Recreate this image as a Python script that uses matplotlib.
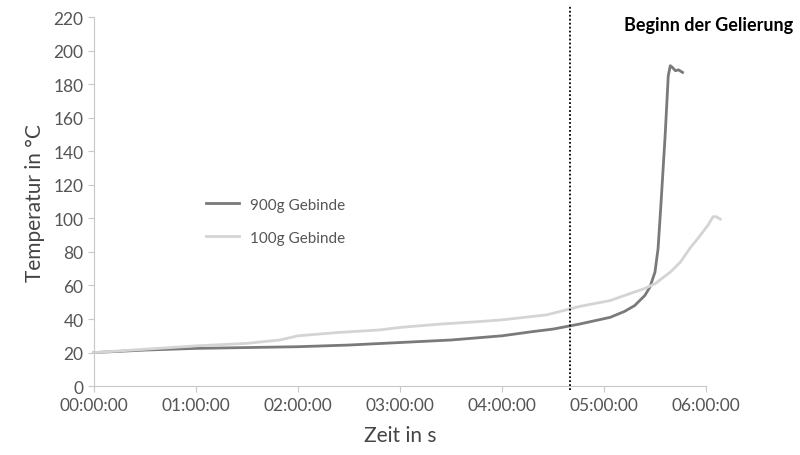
import matplotlib
matplotlib.use("Agg")
import matplotlib.pyplot as plt
from matplotlib.ticker import FuncFormatter, MultipleLocator

plt.rcParams['font.family'] = ['Lato', 'DejaVu Sans']

# Zeit in Stunden, Temperatur in °C
t_900 = [0.0, 0.5, 1.0, 1.5, 2.0, 2.5, 3.0, 3.5, 4.0, 4.3, 4.5, 4.76, 5.06, 5.2, 5.3, 5.4,
         5.45, 5.5, 5.53, 5.56, 5.6, 5.63, 5.65, 5.67, 5.7, 5.73, 5.77]
temp_900 = [20, 21.5, 22.5, 23, 23.5, 24.5, 26, 27.5, 30, 32.5, 34, 37, 41, 44.5, 48, 54,
            59, 68, 82, 110, 150, 185, 191, 190, 188, 188.5, 187]

t_100 = [0.0, 0.5, 1.0, 1.5, 1.82, 2.0, 2.4, 2.8, 3.0, 3.4, 3.78, 4.0, 4.44, 4.76, 5.06,
         5.2, 5.39, 5.5, 5.65, 5.75, 5.84, 5.92, 5.97, 6.02, 6.07, 6.1, 6.14]
temp_100 = [20, 22, 24, 25.5, 27.5, 30, 32, 33.5, 35, 37, 38.5, 39.5, 42.5, 47.5, 51,
            54, 58, 61, 68, 74, 82, 88, 92, 96, 101, 101, 99.5]

gel_start = 4.67  # Beginn der Gelierung (h)

fig = plt.figure(figsize=(8, 4.56), dpi=100)
ax = fig.add_axes([0.1175, 0.151, 0.765, 0.8095])

ax.plot(t_900, temp_900, color="#7a7a7a", lw=2.0, label="900g Gebinde", clip_on=False)
ax.plot(t_100, temp_100, color="#d4d4d4", lw=2.0, label="100g Gebinde", clip_on=False)

ax.axvline(gel_start, ymin=-0.01, ymax=1.03, color="black", ls=(0, (1, 1.2)), lw=1.3,
           clip_on=False)
fig.text(0.992, 0.945, "Beginn der Gelierung", ha="right", va="center",
         fontsize=13, fontweight="bold")

ax.set_xlim(0, 6)
ax.set_ylim(0, 220)
ax.xaxis.set_major_locator(MultipleLocator(1))
ax.yaxis.set_major_locator(MultipleLocator(20))
ax.xaxis.set_major_formatter(FuncFormatter(lambda v, p: "%02d:00:00" % int(round(v))))

for s in ["top", "right"]:
    ax.spines[s].set_visible(False)
for s in ["left", "bottom"]:
    ax.spines[s].set_color("#c8c8c8")
ax.tick_params(colors="#c8c8c8", labelcolor="#555555", labelsize=12.5, length=4)

ax.set_xlabel("Zeit in s", fontsize=15, color="#444444", labelpad=9)
ax.set_ylabel("Temperatur in °C", fontsize=15, color="#444444", labelpad=6)

ax.legend(loc="center left", bbox_to_anchor=(0.17, 0.447), frameon=False, fontsize=11,
          borderpad=0, handlelength=2.2, handletextpad=0.7, labelspacing=1.25,
          labelcolor="#555555")

fig.savefig("out.png", dpi=100)
